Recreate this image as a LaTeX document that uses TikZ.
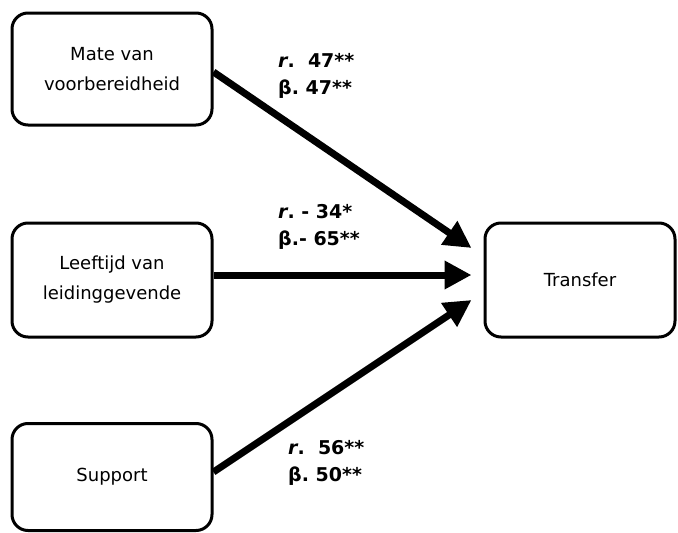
\documentclass[tikz,border=0pt]{standalone}
\usepackage{fontspec}
\setmainfont{DejaVu Sans}
\usetikzlibrary{arrows.meta}

\begin{document}
\begin{tikzpicture}[
  x=1pt, y=-1pt,
  every node/.style={inner sep=1pt},
  box/.style={draw, line width=3pt, rounded corners=16pt, fill=white,
    align=center, font=\fontsize{18}{30}\selectfont},
  arrow/.style={draw, line width=7pt,
    -{Triangle[length=27pt, width=27pt]}},
  coef/.style={align=left, anchor=north west, inner sep=0pt,
    font=\bfseries\fontsize{19}{27}\selectfont}]

  \useasboundingbox (0,0) rectangle (678,533);

  %% ---------------- predictors ----------------
  \node[box, minimum width=200pt, minimum height=112pt] (mate) at (112, 69)
    {Mate van\\voorbereidheid};
  \node[box, minimum width=200pt, minimum height=114pt] (leeftijd) at (112, 280)
    {Leeftijd van\\leidinggevende};
  \node[box, minimum width=200pt, minimum height=107pt] (support) at (112, 477)
    {Support};

  %% ---------------- outcome ----------------
  \node[box, minimum width=190pt, minimum height=114pt] (transfer) at (580, 280)
    {Transfer};

  % arrow tips stop short of the outcome box
  \coordinate (tipA) at ([xshift=-12pt, yshift=32pt]transfer.west);
  \coordinate (tipB) at ([xshift=-12pt, yshift=5pt]transfer.west);
  \coordinate (tipC) at ([xshift=-12pt, yshift=-20pt]transfer.west);

  % paths
  \draw[arrow] ([yshift=-3pt]mate.east) -- (tipA);
  \draw[arrow] ([yshift=5pt]leeftijd.east) -- (tipB);
  \draw[arrow] ([yshift=5pt]support.east) -- (tipC);

  % coefficients
  \node[coef] (coefA) at (278, 53) {\textit{r}.\ \ 47**\\β.\ 47**};
  \node[coef] (coefB) at (278, 204) {\textit{r}.\ - 34*\\β.- 65**};
  \node[coef] (coefC) at (288, 440) {\textit{r}.\ \ 56**\\β.\ 50**};

\end{tikzpicture}
\end{document}
